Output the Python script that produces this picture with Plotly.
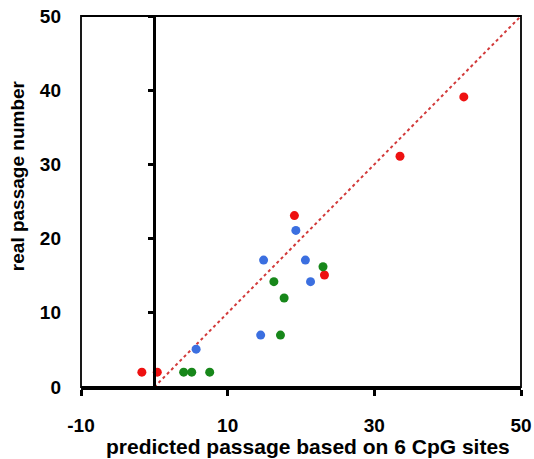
import plotly.graph_objects as go

# data
red_x = [-1.7, 0.4, 19.1, 23.2, 33.5, 42.2]
red_y = [2, 2, 23.1, 15.1, 31.1, 39.1]
blue_x = [5.7, 14.5, 14.9, 19.3, 20.6, 21.3]
blue_y = [5.1, 7.0, 17.1, 21.1, 17.1, 14.2]
green_x = [4.0, 5.1, 7.55, 16.3, 17.7, 17.2, 23.0]
green_y = [2, 2, 2, 14.2, 12.0, 7.0, 16.2]
diag_x = [0, 50]
diag_y = [0, 50]
x_ticks = [-10, 10, 30, 50]
x_labels = ["-10", "10", "30", "50"]
y_ticks = [0, 10, 20, 30, 40, 50]
y_marks = [10, 20, 30, 40, 50]

FONT = "Liberation Sans, Arial, sans-serif"

fig = go.Figure()
fig.add_trace(go.Scatter(x=diag_x, y=diag_y, mode="lines",
                         line=dict(color="#d23a3a", width=2, dash="dot"),
                         showlegend=False, hoverinfo="skip"))
fig.add_trace(go.Scatter(x=red_x, y=red_y, mode="markers",
                         marker=dict(color="#ee1111", size=9), showlegend=False))
fig.add_trace(go.Scatter(x=blue_x, y=blue_y, mode="markers",
                         marker=dict(color="#3b6fe0", size=9), showlegend=False))
fig.add_trace(go.Scatter(x=green_x, y=green_y, mode="markers",
                         marker=dict(color="#17871a", size=9), showlegend=False))
# invisible trace on the secondary y axis so it is drawn
fig.add_trace(go.Scatter(x=[None], y=[None], yaxis="y2", showlegend=False))

fig.update_layout(
    width=534, height=459,
    margin=dict(l=81, r=13, t=16, b=72),
    paper_bgcolor="white", plot_bgcolor="white",
    font=dict(family=FONT, color="black"),
    xaxis=dict(range=[-10, 50], tickvals=x_ticks, ticktext=x_labels,
               ticks="outside", ticklen=6, automargin=False,
               ticklabeloverflow="allow",
               tickwidth=2.5, tickcolor="black", showline=True, linewidth=3,
               linecolor="black", showgrid=False, zeroline=False,
               tickfont=dict(size=19, weight="bold", family=FONT),
               ticklabelstandoff=13),
    yaxis=dict(range=[0, 50], tickvals=y_ticks, ticks="", showline=False,
               showgrid=False, zeroline=False, automargin=False,
               ticklabeloverflow="allow",
               tickfont=dict(size=19, weight="bold", family=FONT),
               ticklabelstandoff=19),
    yaxis2=dict(range=[0, 50], overlaying="y", anchor="free", position=1/6,
                tickvals=y_marks, ticks="outside", ticklen=5, tickwidth=2.5,
                tickcolor="black", showline=True, linewidth=3, linecolor="black",
                showticklabels=False, showgrid=False, zeroline=False,
                automargin=False),
    shapes=[dict(type="rect", xref="paper", yref="paper", x0=0, y0=0, x1=1, y1=1,
                 line=dict(color="black", width=1.8), layer="above")],
    annotations=[
        dict(text="real passage number", textangle=-90,
             xref="paper", yref="paper", x=-0.1455, y=0.571,
             xanchor="center", yanchor="middle", showarrow=False,
             font=dict(size=19, weight="bold", family=FONT)),
        dict(text="predicted passage based on 6 CpG sites",
             xref="paper", yref="paper", x=0.516, y=-0.1617,
             xanchor="center", yanchor="middle", showarrow=False,
             font=dict(size=21, weight="bold", family=FONT)),
    ],
)

fig.write_html("out.html", config={"displayModeBar": False},
               post_script="document.body.style.margin='0';")
